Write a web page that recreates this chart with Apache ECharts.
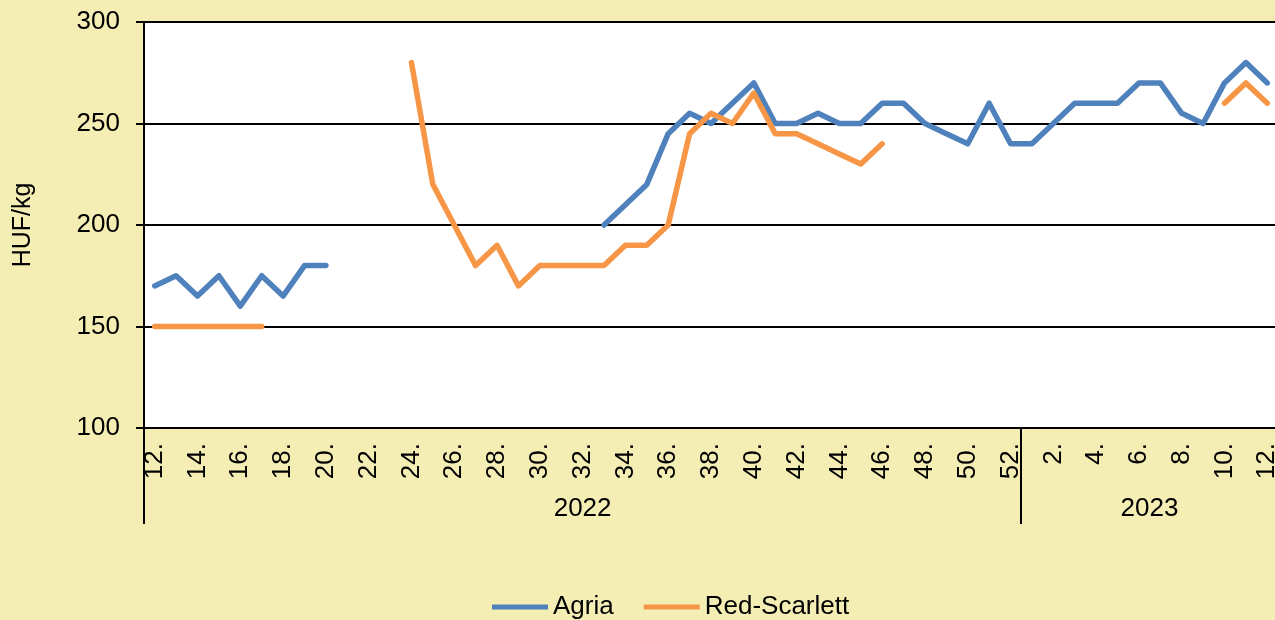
<!DOCTYPE html>
<html>
<head>
<meta charset="utf-8">
<title>Agria / Red-Scarlett</title>
<script src="https://cdn.jsdelivr.net/npm/echarts@6/dist/echarts.min.js"></script>
<style>
  html, body { margin: 0; padding: 0; background: #f4eeb4; }
  #chart { width: 1275px; height: 620px; }
</style>
</head>
<body>
<div id="chart"></div>
<script>
// week labels: 2022 wk 12..52, then 2023 wk 1..12
const categories = [
  '12.', '13.', '14.', '15.', '16.', '17.', '18.', '19.', '20.', '21.',
  '22.', '23.', '24.', '25.', '26.', '27.', '28.', '29.', '30.', '31.',
  '32.', '33.', '34.', '35.', '36.', '37.', '38.', '39.', '40.', '41.',
  '42.', '43.', '44.', '45.', '46.', '47.', '48.', '49.', '50.', '51.', '52.',
  '1.', '2.', '3.', '4.', '5.', '6.', '7.', '8.', '9.', '10.', '11.', '12.'
]

const years = ['2022', '2023']
const yearStart = [0, 41]
const yearLength = [41, 12]

const agria = [
  170, 175, 165, 175, 160, 175, 165, 180, 180,
  null, null, null, null, null, null, null, null, null, null, null, null,
  200, 210, 220, 245, 255, 250, 260, 270, 250, 250,
  255, 250, 250, 260, 260, 250, 245, 240, 260, 240,
  240, 250, 260, 260, 260, 270, 270, 255, 250, 270, 280, 270
]

const redScarlett = [
  150, 150, 150, 150, 150, 150,
  null, null, null, null, null, null,
  280, 220, 200, 180, 190, 170, 180, 180, 180, 180, 190, 190,
  200, 245, 255, 250, 265, 245, 245, 240, 235, 230, 240,
  null, null, null, null, null, null,
  null, null, null, null, null, null, null, null, null,
  260, 270, 260
]

const FONT = '"Liberation Sans", Arial, sans-serif'
const FS = 26

const chart = echarts.init(document.getElementById('chart'))

// index of the label shown for each year group (centre of the group)
function yearIndex(i) {
  for (let k = 0; k < years.length; k++) {
    if (i === yearStart[k] + Math.floor((yearLength[k] - 1) / 2)) return k
  }
  return -1
}

const option = {
  backgroundColor: '#f4eeb4',
  textStyle: { fontFamily: FONT },
  grid: {
    left: 144,
    right: -3,
    top: 22,
    bottom: 192,
    outerBoundsMode: 'none',
    containLabel: false,
    show: true,
    backgroundColor: '#ffffff',
    borderWidth: 0
  },
  legend: {
    left: 487,
    top: 589,
    icon: 'rect',
    itemWidth: 56,
    itemHeight: 5,
    itemGap: 30,
    textStyle: { fontSize: FS, color: '#000', fontFamily: FONT },
    data: ['Agria', 'Red-Scarlett']
  },
  xAxis: [
    {
      type: 'category',
      data: categories,
      boundaryGap: true,
      axisLine: { lineStyle: { color: '#000', width: 2 } },
      axisTick: { show: false },
      axisLabel: {
        interval: 1,
        rotate: 90,
        margin: 15,
        fontSize: FS,
        color: '#000',
        fontFamily: FONT
      },
      splitLine: { show: false }
    },
    {
      // second level: years with separators
      type: 'category',
      data: categories,
      position: 'bottom',
      boundaryGap: true,
      axisLine: { show: false },
      axisTick: {
        show: true,
        length: 96,
        interval: function(i) {
          return yearStart.indexOf(i) !== -1
        },
        lineStyle: { color: '#000', width: 2 }
      },
      axisLabel: {
        margin: 68,
        fontSize: FS,
        color: '#000',
        fontFamily: FONT,
        interval: function(i) {
          return yearIndex(i) !== -1
        },
        formatter: function(v, i) {
          const k = yearIndex(i)
          if (k < 0) return ''
          // even groups sit between two categories, shift by half a band
          return yearLength[k] % 2 === 0 ? '{s|' + years[k] + '}' : years[k]
        },
        rich: {
          s: { fontSize: FS, color: '#000', fontFamily: FONT, padding: [0, 0, 0, 21] }
        }
      },
      splitLine: { show: false }
    }
  ],
  yAxis: {
    type: 'value',
    min: 100,
    max: 300,
    interval: 50,
    name: 'HUF/kg',
    nameLocation: 'middle',
    nameGap: 108,
    nameTextStyle: { fontSize: 25, color: '#000', fontFamily: FONT },
    axisLine: { show: true, lineStyle: { color: '#000', width: 2 } },
    axisTick: { show: true, inside: false, length: 8, lineStyle: { color: '#000', width: 2 } },
    axisLabel: { margin: 24, fontSize: FS, color: '#000', fontFamily: FONT },
    splitLine: { lineStyle: { color: '#000', width: 2 } }
  },
  series: [
    {
      name: 'Agria',
      type: 'line',
      data: agria,
      symbol: 'none',
      connectNulls: false,
      color: '#4f81bd',
      lineStyle: { color: '#4f81bd', width: 5.5, cap: 'round', join: 'round' }
    },
    {
      name: 'Red-Scarlett',
      type: 'line',
      data: redScarlett,
      symbol: 'none',
      connectNulls: false,
      color: '#f79646',
      lineStyle: { color: '#f79646', width: 5.5, cap: 'round', join: 'round' }
    }
  ]
}

chart.setOption(option)
</script>
</body>
</html>
